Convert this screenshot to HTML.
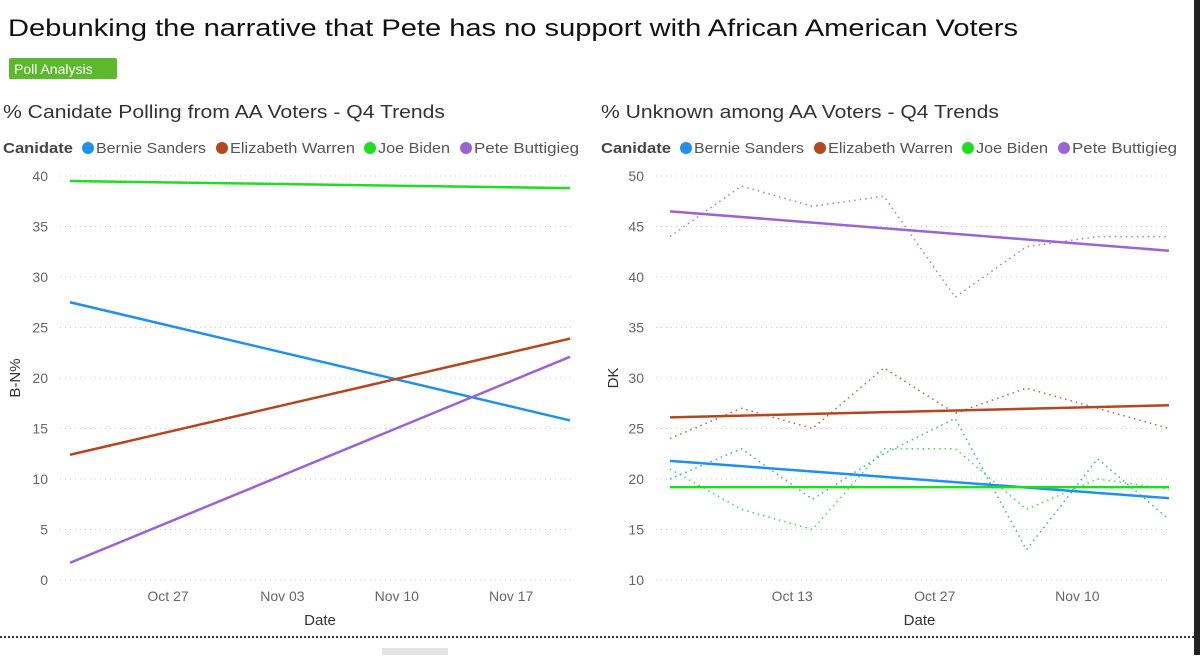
<!DOCTYPE html>
<html><head><meta charset="utf-8">
<style>
body{margin:0;width:1200px;height:655px;background:#fff;overflow:hidden;font-family:"Liberation Sans",sans-serif;}
svg text{font-family:"Liberation Sans",sans-serif;}
</style></head>
<body>
<svg id="s" width="1200" height="655" viewBox="0 0 1200 655">
<text x="8" y="36" font-size="24" fill="#111" textLength="1010" lengthAdjust="spacingAndGlyphs">Debunking the narrative that Pete has no support with African American Voters</text>
<rect x="9" y="58" width="108" height="21" rx="2" fill="#5cb82d"/>
<text x="14" y="74" font-size="14" fill="#fff">Poll Analysis</text>
<text x="3" y="118" font-size="18" fill="#333" textLength="442" lengthAdjust="spacingAndGlyphs">% Canidate Polling from AA Voters - Q4 Trends</text>
<text x="601" y="118" font-size="18" fill="#333" textLength="398" lengthAdjust="spacingAndGlyphs">% Unknown among AA Voters - Q4 Trends</text>
<line x1="0" y1="637" x2="1194" y2="637" stroke="#333" stroke-width="2" stroke-dasharray="2,2"/>
<rect x="1194" y="0" width="6" height="655" fill="#222"/>
<rect x="382" y="648" width="66" height="7" fill="#e4e4e4"/>
<g id="left"></g><g id="right"></g>
</svg>
<script>
// Left chart data (dates as day offsets from Oct 1)
const names=["Bernie Sanders","Elizabeth Warren","Joe Biden","Pete Buttigieg"];
const colors=["#1f8ff0","#b3471f","#21dd21","#9a64d6"];
const leftTicks=[0,5,10,15,20,25,30,35,40];
const leftDateTicks=["Oct 27","Nov 03","Nov 10","Nov 17"];
const leftDateTickDays=[26,33,40,47];
const leftStartDay=20.0, leftEndDay=50.6;
const leftStartVals=[27.5,12.4,39.5,1.7];
const leftEndVals=[15.8,23.9,38.8,22.1];
// Right chart data
const rightTicks=[10,15,20,25,30,35,40,45,50];
const rightDateTicks=["Oct 13","Oct 27","Nov 10"];
const rightDateTickDays=[12,26,40];
const rightDays=[0,7,14,21,28,35,42,49];
const rightBernie=[20,23,18,22.5,26,13,22,16];
const rightWarren=[24,27,25,31,26.5,29,27,25];
const rightBiden=[21,17,15,23,23,17,20,19];
const rightPete=[44,49,47,48,38,43,44,44];
const rightTrendStart=[21.8,26.1,19.2,46.5];
const rightTrendEnd=[18.1,27.3,19.2,42.6];

const NS="http://www.w3.org/2000/svg";
function mk(p,tag,at,txt){const e=document.createElementNS(NS,tag);for(const k in at)e.setAttribute(k,at[k]);if(txt!=null)e.textContent=txt;p.appendChild(e);return e;}
const legOff=[85,219,367,463], legLen=[110,125,72,105];

function chart(g,o){
  const y=v=>o.y0+(v-o.vmin)/(o.vmax-o.vmin)*(o.y1-o.y0);
  const x=d=>o.x0+(d-o.d0)/(o.d1-o.d0)*(o.x1-o.x0);
  let t=mk(g,'text',{x:o.lx,y:153,'font-size':15,'font-weight':'bold',fill:'#444',textLength:70,lengthAdjust:'spacingAndGlyphs'},'Canidate');
  
  
  names.forEach((n,i)=>{
    const cx=o.lx+legOff[i];
    const c=mk(g,'circle',{cx:cx,cy:148,r:6,fill:colors[i]});
    
    
    const tt=mk(g,'text',{x:cx+8,y:153,'font-size':15,fill:'#555',textLength:legLen[i],lengthAdjust:'spacingAndGlyphs'},n);
    
    
  });
  o.ticks.forEach(v=>{
    const l=mk(g,'line',{x1:o.gx,x2:o.x1+2,y1:y(v),y2:y(v),stroke:'#ccc','stroke-dasharray':'1,4'});
    
    
    const tt=mk(g,'text',{x:o.gx-12,y:y(v)+5,'font-size':14,fill:'#666','text-anchor':'end'},v);
    
    
  });
  o.dt.forEach((s,i)=>{
    const tt=mk(g,'text',{x:x(o.dd[i]),y:601,'font-size':14,fill:'#666','text-anchor':'middle'},s);
    
    
  });
  let xt=mk(g,'text',{x:(o.x0+o.x1)/2,y:625,'font-size':15,fill:'#333','text-anchor':'middle'},'Date');
  
  
  let yt=mk(g,'text',{x:0,y:0,'font-size':15,fill:'#333','text-anchor':'middle',transform:`translate(${o.yax},378) rotate(-90)`},o.ylab);
  
  
  if(o.series){
    o.series.forEach((arr,i)=>{
      const p=mk(g,'polyline',{points:arr.map((v,j)=>x(o.sdays[j])+','+y(v)).join(' '),fill:'none',stroke:colors[i],'stroke-width':1.5,'stroke-dasharray':'1.5,4','opacity':0.85});
      
      
    });
  }
  o.sv.forEach((v,i)=>{
    const l=mk(g,'line',{x1:x(o.d0),y1:y(v),x2:x(o.d1),y2:y(o.ev[i]),stroke:colors[i],'stroke-width':2.5});
    
    
  });
}
chart(document.getElementById('left'),{x0:70,x1:570,d0:leftStartDay,d1:leftEndDay,y0:580,y1:176,vmin:0,vmax:40,gx:60,lx:3,
  ticks:leftTicks,dt:leftDateTicks,dd:leftDateTickDays,ylab:'B-N%',yax:20,sv:leftStartVals,ev:leftEndVals});
chart(document.getElementById('right'),{x0:670,x1:1169,d0:0,d1:49,y0:580,y1:176,vmin:10,vmax:50,gx:656,lx:601,
  ticks:rightTicks,dt:rightDateTicks,dd:rightDateTickDays,ylab:'DK',yax:618,sv:rightTrendStart,ev:rightTrendEnd,
  series:[rightBernie,rightWarren,rightBiden,rightPete],sdays:rightDays});
</script>
</body></html>
